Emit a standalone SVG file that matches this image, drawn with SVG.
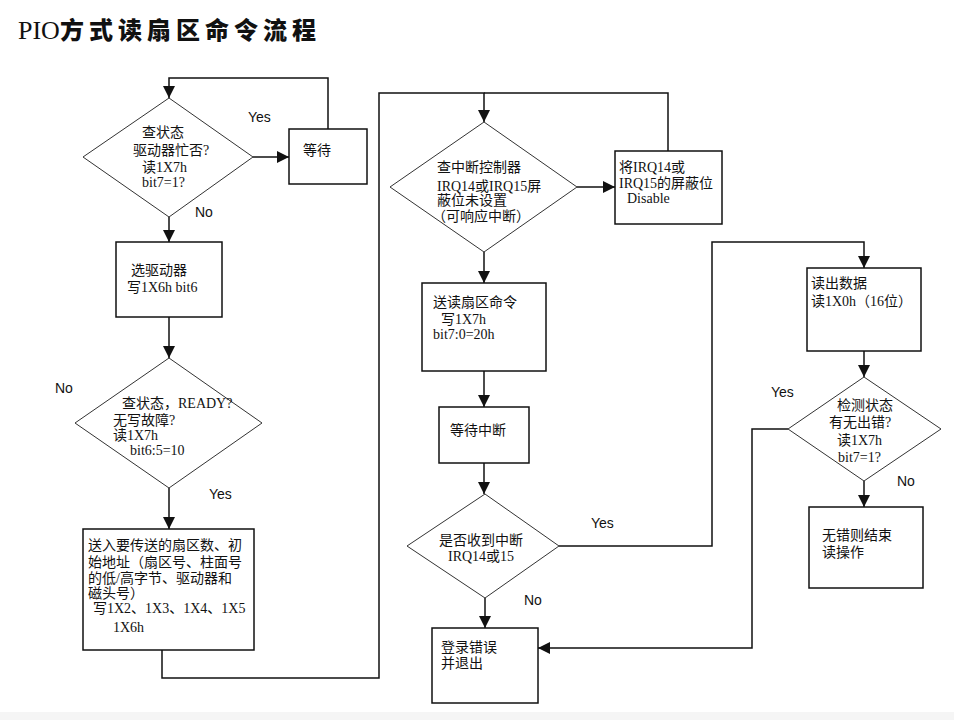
<svg xmlns="http://www.w3.org/2000/svg" width="954" height="720" viewBox="0 0 954 720">
<style>
.box{fill:#fff;stroke:#111;stroke-width:1.5}
.dia{fill:#fff;stroke:#333;stroke-width:1}
.t{font-family:"Liberation Serif","Noto Sans CJK SC",serif;font-size:14px;fill:#111}
.lbl{font-family:"Liberation Sans","Noto Sans",sans-serif;font-size:14px;fill:#111}
.ln{fill:none;stroke:#111;stroke-width:1.5}
.title1{font-family:"Liberation Serif",serif;font-size:26px;fill:#111}
.title2{font-family:"Noto Sans CJK SC",sans-serif;font-size:24px;font-weight:900;fill:#111;letter-spacing:5px}
</style>
<defs>
<marker id="arr" markerUnits="userSpaceOnUse" markerWidth="12" markerHeight="12" viewBox="0 0 12 12" refX="12" refY="6" orient="auto">
<path d="M0,0 L12,6 L0,12 Z" fill="#111"/>
</marker>
</defs>
<rect x="0" y="712" width="954" height="8" fill="#f5f5f5"/>
<text x="18" y="39"><tspan class="title1">PIO</tspan><tspan class="title2">方式读扇区命令流程</tspan></text>

<g id="connectors">
<path class="ln" d="M253,157 H289" marker-end="url(#arr)"/>
<path class="ln" d="M328,129 V78 H169 V98" marker-end="url(#arr)"/>
<path class="ln" d="M169,217 V242" marker-end="url(#arr)"/>
<path class="ln" d="M169,317 V358" marker-end="url(#arr)"/>
<path class="ln" d="M169,488 V529" marker-end="url(#arr)"/>
<path class="ln" d="M162,650 V678 H379 V93 H484 V122" marker-end="url(#arr)"/>
<path class="ln" d="M668,151 V93 H484"/>
<path class="ln" d="M577,187 H615" marker-end="url(#arr)"/>
<path class="ln" d="M484,252 V283" marker-end="url(#arr)"/>
<path class="ln" d="M484,371 V407" marker-end="url(#arr)"/>
<path class="ln" d="M484,463 V494" marker-end="url(#arr)"/>
<path class="ln" d="M559,546 H712 V242 H864 V268" marker-end="url(#arr)"/>
<path class="ln" d="M864,351 V377" marker-end="url(#arr)"/>
<path class="ln" d="M864,481 V507" marker-end="url(#arr)"/>
<path class="ln" d="M788,429 H752 V648 H538" marker-end="url(#arr)"/>
<path class="ln" d="M485,598 V628" marker-end="url(#arr)"/>
<text class="lbl" x="248" y="122">Yes</text>
<text class="lbl" x="195" y="217">No</text>
<text class="lbl" x="55" y="393">No</text>
<text class="lbl" x="209" y="499">Yes</text>
<text class="lbl" x="591" y="528">Yes</text>
<text class="lbl" x="524" y="605">No</text>
<text class="lbl" x="771" y="397">Yes</text>
<text class="lbl" x="897" y="486">No</text>
</g>

<g id="check-busy">
<polygon class="dia" points="169,98 253,157 169,217 83,157"/>
<text class="t" x="142" y="137">查状态</text>
<text class="t" x="133" y="155">驱动器忙否?</text>
<text class="t" x="142" y="172">读1X7h</text>
<text class="t" x="142" y="187">bit7=1?</text>
</g>
<g id="wait">
<rect class="box" x="289" y="129" width="78" height="55"/>
<text class="t" x="303" y="155">等待</text>
</g>
<g id="select-drive">
<rect class="box" x="116" y="242" width="106" height="75"/>
<text class="t" x="131" y="275">选驱动器</text>
<text class="t" x="127" y="292">写1X6h bit6</text>
</g>
<g id="check-ready">
<polygon class="dia" points="169,358 262,423 169,488 75,423"/>
<text class="t" x="122" y="408">查状态，READY?</text>
<text class="t" x="113" y="425">无写故障?</text>
<text class="t" x="113" y="440">读1X7h</text>
<text class="t" x="130" y="455">bit6:5=10</text>
</g>
<g id="send-params">
<rect class="box" x="83" y="529" width="171" height="121"/>
<text class="t" x="88" y="550">送入要传送的扇区数、初</text>
<text class="t" x="88" y="567">始地址（扇区号、柱面号</text>
<text class="t" x="88" y="583">的低/高字节、驱动器和</text>
<text class="t" x="88" y="598">磁头号）</text>
<text class="t" x="93" y="613">写1X2、1X3、1X4、1X5</text>
<text class="t" x="113" y="632">1X6h</text>
</g>
<g id="check-irq">
<polygon class="dia" points="484,122 577,187 484,252 390,187"/>
<text class="t" x="437" y="172">查中断控制器</text>
<text class="t" x="437" y="191">IRQ14或IRQ15屏</text>
<text class="t" x="437" y="205">蔽位未设置</text>
<text class="t" x="432" y="221">（可响应中断）</text>
</g>
<g id="disable">
<rect class="box" x="615" y="151" width="107" height="73"/>
<text class="t" x="619" y="172">将IRQ14或</text>
<text class="t" x="619" y="188">IRQ15的屏蔽位</text>
<text class="t" x="627" y="203">Disable</text>
</g>
<g id="send-cmd">
<rect class="box" x="422" y="283" width="124" height="88"/>
<text class="t" x="433" y="307">送读扇区命令</text>
<text class="t" x="441" y="324">写1X7h</text>
<text class="t" x="433" y="339">bit7:0=20h</text>
</g>
<g id="wait-int">
<rect class="box" x="439" y="407" width="90" height="56"/>
<text class="t" x="450" y="435">等待中断</text>
</g>
<g id="got-int">
<polygon class="dia" points="485,494 559,546 485,598 407,546"/>
<text class="t" x="439" y="545">是否收到中断</text>
<text class="t" x="448" y="561">IRQ14或15</text>
</g>
<g id="error">
<rect class="box" x="432" y="628" width="106" height="75"/>
<text class="t" x="441" y="652">登录错误</text>
<text class="t" x="441" y="668">并退出</text>
</g>
<g id="read-data">
<rect class="box" x="807" y="268" width="114" height="83"/>
<text class="t" x="811" y="288">读出数据</text>
<text class="t" x="811" y="306">读1X0h（16位）</text>
</g>
<g id="check-error">
<polygon class="dia" points="864,377 941,429 864,481 788,429"/>
<text class="t" x="837" y="410">检测状态</text>
<text class="t" x="829" y="427">有无出错?</text>
<text class="t" x="837" y="445">读1X7h</text>
<text class="t" x="838" y="462">bit7=1?</text>
</g>
<g id="end">
<rect class="box" x="809" y="507" width="114" height="81"/>
<text class="t" x="822" y="540">无错则结束</text>
<text class="t" x="822" y="557">读操作</text>
</g>
</svg>
